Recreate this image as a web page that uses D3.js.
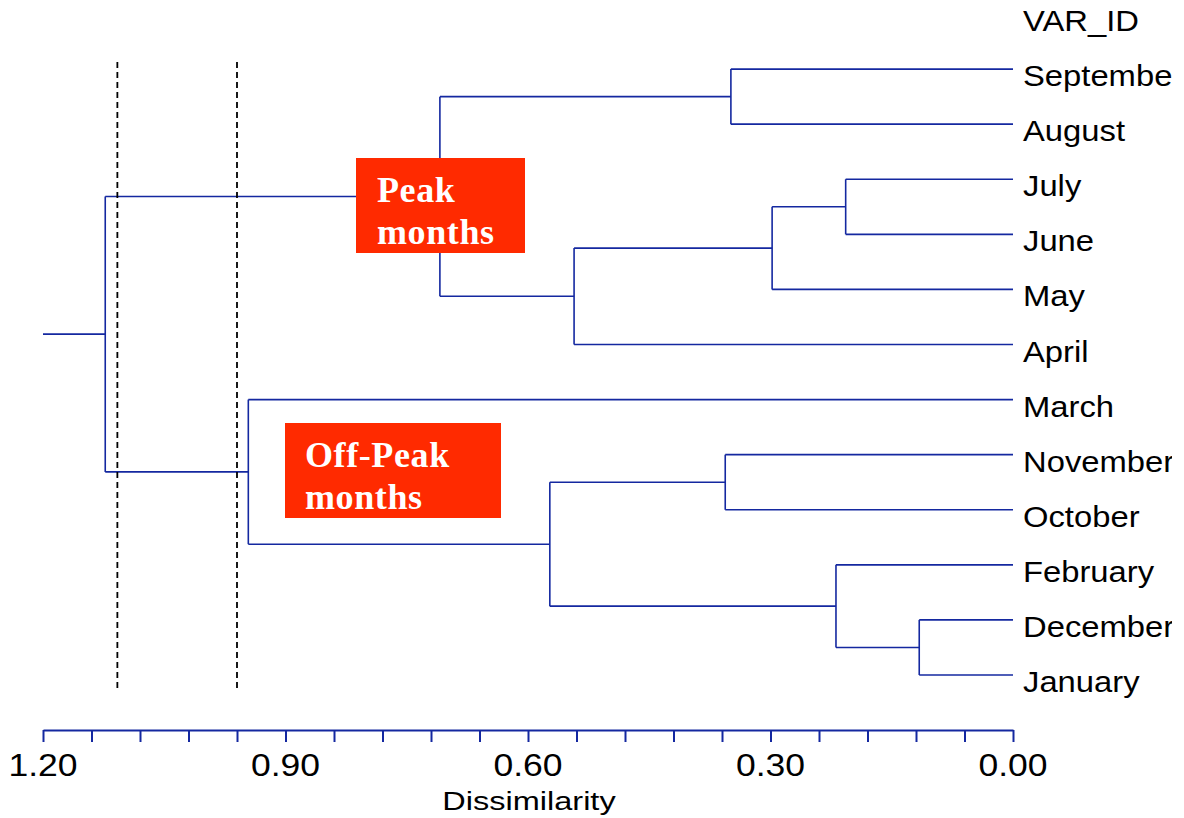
<!DOCTYPE html>
<html>
<head>
<meta charset="utf-8">
<script src="https://cdn.jsdelivr.net/npm/d3@7"></script>
<style>
  html, body { margin: 0; padding: 0; background: #fff; }
  svg { display: block; }
</style>
</head>
<body>
<svg id="chart" width="1184" height="818"></svg>
<script>
// ---- data ----
const leaves = ["September","August","July","June","May","April","March","November","October","February","December","January"];
const headerLabel = "VAR_ID";
// merges: children ids (leaf names or m1..m11) and merge height (dissimilarity)
const mergeChildren = [
  ["December","January"],   // m1
  ["July","June"],          // m2
  ["February","m1"],        // m3
  ["m2","May"],             // m4
  ["September","August"],   // m5
  ["November","October"],   // m6
  ["m4","April"],           // m7
  ["m6","m3"],              // m8
  ["m5","m7"],              // m9
  ["March","m8"],           // m10
  ["m9","m10"]              // m11 (root)
];
const mergeHeights = [0.116, 0.207, 0.219, 0.298, 0.349, 0.356, 0.543, 0.573, 0.709, 0.946, 1.123];
const rootStemTop = 1.20;
const cutHeights = [1.108, 0.960];
const tickValues = [1.20,1.14,1.08,1.02,0.96,0.90,0.84,0.78,0.72,0.66,0.60,0.54,0.48,0.42,0.36,0.30,0.24,0.18,0.12,0.06,0.00];
const tickLabels = ["1.20","0.90","0.60","0.30","0.00"];
const groupLabels = [["Peak","months"],["Off-Peak","months"]];
const axisTitle = "Dissimilarity";

// ---- layout ----
const svg = d3.select("#chart");
const blue = "#1428a0";
const x = d3.scaleLinear().domain([1.2, 0]).range([43, 1013]);
const y = d3.scalePoint().domain(["__hdr"].concat(leaves)).range([14, 675]);

const nodes = {};
leaves.forEach(l => nodes[l] = {y: y(l), h: 0});
mergeChildren.forEach((c, i) => {
  const a = nodes[c[0]], b = nodes[c[1]];
  nodes["m" + (i + 1)] = {y: (a.y + b.y) / 2, h: mergeHeights[i], a, b};
});
const root = nodes["m" + mergeChildren.length];

const g = svg.append("g")
  .attr("fill", "none").attr("stroke", blue).attr("stroke-width", 1.6);

mergeChildren.forEach((c, i) => {
  const n = nodes["m" + (i + 1)];
  [n.a, n.b].forEach(ch => {
    g.append("line").attr("x1", x(n.h)).attr("x2", x(ch.h))
      .attr("y1", ch.y).attr("y2", ch.y);
  });
  g.append("line").attr("x1", x(n.h)).attr("x2", x(n.h))
    .attr("y1", n.a.y).attr("y2", n.b.y);
});
// root stem
g.append("line").attr("x1", x(rootStemTop)).attr("x2", x(root.h))
  .attr("y1", root.y).attr("y2", root.y);

// cut lines
svg.selectAll("line.cut").data(cutHeights).enter().append("line")
  .attr("class", "cut")
  .attr("x1", d => x(d)).attr("x2", d => x(d))
  .attr("y1", 62).attr("y2", 688)
  .attr("stroke", "#000").attr("stroke-width", 1.8)
  .attr("stroke-dasharray", "6,4");

// leaf labels with clip
svg.append("clipPath").attr("id", "clipR").append("rect")
  .attr("x", 0).attr("y", 0).attr("width", 1172).attr("height", 818);
const lab = svg.append("g").attr("clip-path", "url(#clipR)")
  .attr("font-family", "Liberation Sans, Arial, sans-serif")
  .attr("font-size", 29).attr("fill", "#000");
[headerLabel].concat(leaves).forEach((l, i) => {
  const yy = i === 0 ? y("__hdr") : y(l);
  lab.append("text")
    .attr("transform", `translate(1023,${yy + 17}) scale(1.13,1)`)
    .text(l);
});

// group boxes
const boxes = [
  {x0: 356, y0: 158, w: 169, h: 95, tx: 377, ty: 202},
  {x0: 285, y0: 423, w: 216, h: 95, tx: 305, ty: 467}
];
boxes.forEach((b, i) => {
  svg.append("rect").attr("x", b.x0).attr("y", b.y0).attr("width", b.w).attr("height", b.h)
    .attr("fill", "#ff2a00");
  const t = svg.append("text")
    .attr("font-family", "Liberation Serif, Times New Roman, serif")
    .attr("font-weight", "bold").attr("font-size", 36).attr("fill", "#fff")
    .attr("letter-spacing", 0.6);
  groupLabels[i].forEach((s, k) => {
    t.append("tspan").attr("x", b.tx).attr("y", b.ty + k * 42).text(s);
  });
});

// axis
const axisY = 730;
const ax = svg.append("g").attr("transform", `translate(0,${axisY})`)
  .call(d3.axisBottom(x).tickValues(tickValues).tickSize(12).tickSizeOuter(0).tickFormat(""));
ax.select(".domain").attr("stroke", blue).attr("stroke-width", 2);
ax.selectAll(".tick line").attr("stroke", blue).attr("stroke-width", 2);

svg.append("g").selectAll("text").data(tickLabels).enter().append("text")
  .attr("transform", d => `translate(${x(+d)},776) scale(1.11,1)`)
  .attr("text-anchor", "middle")
  .attr("font-family", "Liberation Sans, Arial, sans-serif")
  .attr("font-size", 32).attr("fill", "#000")
  .text(d => d);

svg.append("text")
  .attr("transform", `translate(529,810) scale(1.25,1)`)
  .attr("text-anchor", "middle")
  .attr("font-family", "Liberation Sans, Arial, sans-serif")
  .attr("font-size", 26).attr("fill", "#000")
  .text(axisTitle);
</script>
</body>
</html>
